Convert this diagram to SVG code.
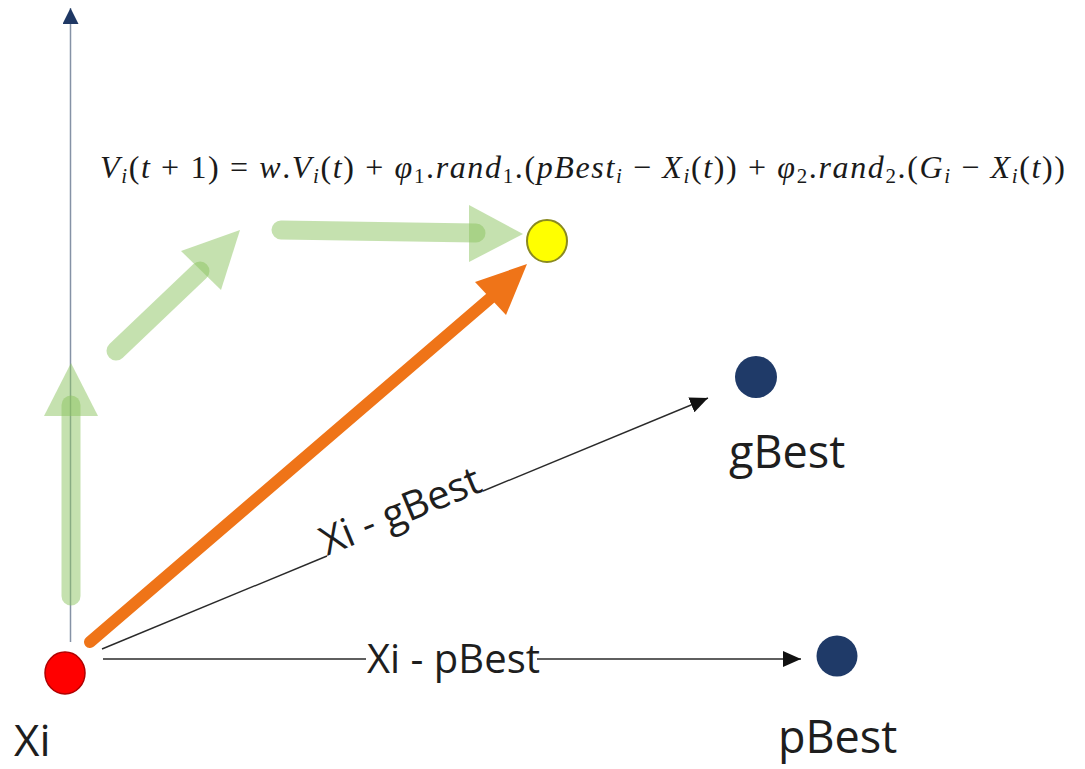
<svg xmlns="http://www.w3.org/2000/svg" width="1085" height="769" viewBox="0 0 1085 769">
<style>
.lbl{font-family:"Open Sans","Liberation Sans",sans-serif;fill:#1e1e1e}
.thin{stroke:#2a2a2a;stroke-width:1.4;fill:none}
.green{stroke:#8bc35f;stroke-opacity:0.5;stroke-width:19;stroke-linecap:round;fill:none}
.ghead{fill:#8bc35f;fill-opacity:0.5}
.formula{font-family:"Liberation Serif","Times New Roman",serif;fill:#1a1a1a}
.it{font-style:italic}
</style>
<defs>
<marker id="ah" markerUnits="userSpaceOnUse" markerWidth="20" markerHeight="16" refX="18" refY="8" orient="auto">
<path d="M0,0 L18,8 L0,16 Z" fill="#111"/>
</marker>
<marker id="axh" markerUnits="userSpaceOnUse" markerWidth="18" markerHeight="18" refX="16" refY="8" orient="auto">
<path d="M0,0 L16,8 L0,16 Z" fill="#1f3864"/>
</marker>
</defs>
<rect width="1085" height="769" fill="#ffffff"/>
<g id="connectors">
<line x1="70.5" y1="642" x2="70.5" y2="8" stroke="#8592a6" stroke-width="1.5" marker-end="url(#axh)"/>
<g id="green-arrows">
<line class="green" x1="71" y1="596" x2="71" y2="405"/>
<polygon class="ghead" points="44,416 98,416 71,363"/>
<line class="green" x1="116" y1="351" x2="200" y2="271"/>
<polygon class="ghead" points="181,251 221,290 240,230"/>
<line class="green" x1="281" y1="230" x2="476" y2="233"/>
<polygon class="ghead" points="469,205 523,234 469,262"/>
</g>
<g id="orange-arrow">
<line x1="90" y1="642" x2="494" y2="295" stroke="#ef7418" stroke-width="12" stroke-linecap="round"/>
<polygon points="475,282 527,264 506,315" fill="#ef7418"/>
</g>
<g id="edge-gbest">
<line class="thin" x1="102" y1="649" x2="327" y2="556"/>
<line class="thin" x1="483" y1="491" x2="708" y2="398" marker-end="url(#ah)"/>
<text class="lbl" x="327" y="556" font-size="40" transform="rotate(-22.5 327 556)">Xi - gBest</text>
</g>
<g id="edge-pbest">
<line class="thin" x1="103" y1="659" x2="366" y2="659"/>
<line class="thin" x1="537" y1="659" x2="801" y2="659" marker-end="url(#ah)"/>
<text class="lbl" x="367" y="673" font-size="40">Xi - pBest</text>
</g>
</g>
<g id="formula">
<text class="formula" x="100" y="178" font-size="32" textLength="965" lengthAdjust="spacing"><tspan class="it">V</tspan><tspan class="it" font-size="21" dy="5">i</tspan><tspan dy="-5">(</tspan><tspan class="it">t</tspan><tspan> + 1) = </tspan><tspan class="it">w</tspan><tspan>.</tspan><tspan class="it">V</tspan><tspan class="it" font-size="21" dy="5">i</tspan><tspan dy="-5">(</tspan><tspan class="it">t</tspan><tspan>) + </tspan><tspan class="it">φ</tspan><tspan font-size="21" dy="5">1</tspan><tspan dy="-5">.</tspan><tspan class="it">rand</tspan><tspan font-size="21" dy="5">1</tspan><tspan dy="-5">.(</tspan><tspan class="it">pBest</tspan><tspan class="it" font-size="21" dy="5">i</tspan><tspan dy="-5"> − </tspan><tspan class="it">X</tspan><tspan class="it" font-size="21" dy="5">i</tspan><tspan dy="-5">(</tspan><tspan class="it">t</tspan><tspan>)) + </tspan><tspan class="it">φ</tspan><tspan font-size="21" dy="5">2</tspan><tspan dy="-5">.</tspan><tspan class="it">rand</tspan><tspan font-size="21" dy="5">2</tspan><tspan dy="-5">.(</tspan><tspan class="it">G</tspan><tspan class="it" font-size="21" dy="5">i</tspan><tspan dy="-5"> − </tspan><tspan class="it">X</tspan><tspan class="it" font-size="21" dy="5">i</tspan><tspan dy="-5">(</tspan><tspan class="it">t</tspan><tspan>))</tspan></text>
</g>
<g id="node-xi">
<ellipse cx="65" cy="673" rx="20" ry="21" fill="#ff0000" stroke="#b00000" stroke-width="1.5"/>
<text class="lbl" x="14" y="756" font-size="44">Xi</text>
</g>
<g id="node-new">
<ellipse cx="547" cy="241" rx="20" ry="21" fill="#ffff00" stroke="#8a8a20" stroke-width="2"/>
</g>
<g id="node-gbest">
<circle cx="756" cy="377" r="21" fill="#1f3a68"/>
<text class="lbl" x="729" y="468" font-size="45">gBest</text>
</g>
<g id="node-pbest">
<circle cx="837" cy="656" r="20.5" fill="#1f3a68"/>
<text class="lbl" x="778" y="753" font-size="45">pBest</text>
</g>
</svg>
